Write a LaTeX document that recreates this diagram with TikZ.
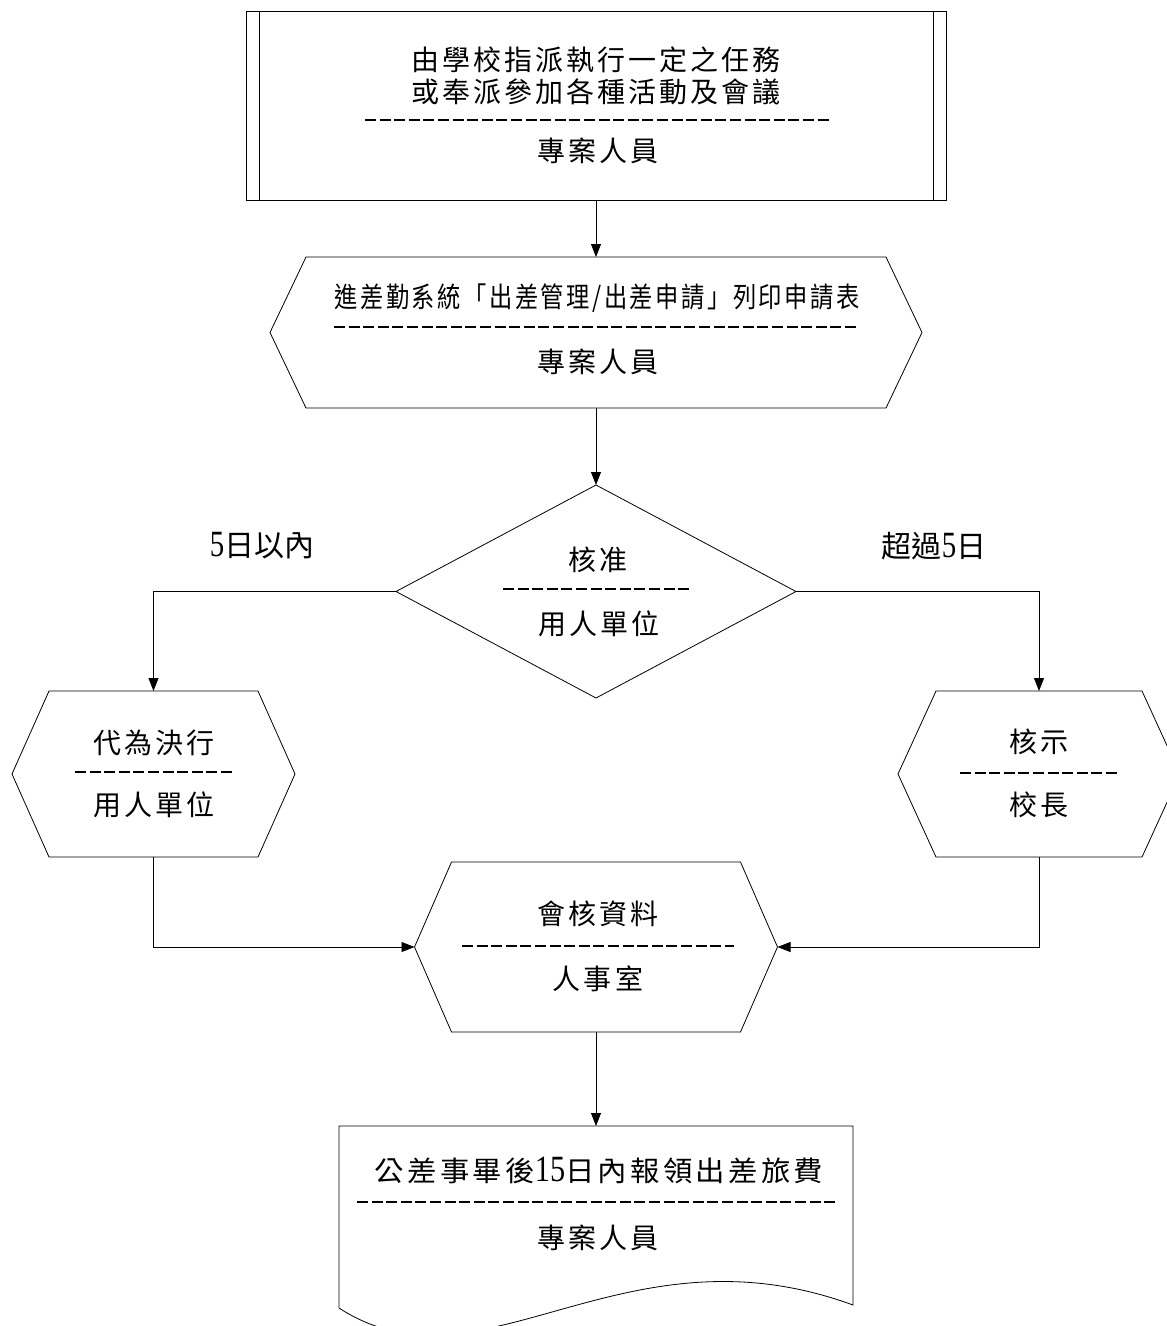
\documentclass[tikz,border=0pt]{standalone}
\usepackage{fontspec}
\usepackage{graphicx}
\setmainfont{Liberation Serif}
\newfontfamily\cjk[LetterSpace=11]{Noto Sans CJK TC}
\newfontfamily\cjkplain{Noto Sans CJK TC}
\newcommand\tallnum[1]{{\rmfamily\fontsize{37}{30}\selectfont\scalebox{0.78}[1]{#1}}}
\usetikzlibrary{arrows.meta,calc}
\newcommand\hexdraw[2]{\draw ($(#1.north west)+(#2,0)$) -- ($(#1.north east)+(-#2,0)$) -- (#1.east) -- ($(#1.south east)+(-#2,0)$) -- ($(#1.south west)+(#2,0)$) -- (#1.west) -- cycle;}
\begin{document}
\begin{tikzpicture}[x=1pt,y=-1pt,line width=0.8pt,
  shp/.style={shape=rectangle,inner sep=0pt,outer sep=0pt},
  txt/.style={inner sep=0pt,font=\fontsize{28}{30}\cjk},
  lbl/.style={inner sep=0pt,font=\fontsize{30}{30}\cjkplain},
  dashline/.style={dash pattern=on 11pt off 3.6pt,line width=1.4pt},
  arr/.style={-{Triangle[length=13pt,width=10pt]}}]
\useasboundingbox (0,0) rectangle (1167,1326);
\clip (0,0) rectangle (1167,1326);

% box 1 (predefined process)
\node[shp,draw,minimum width=700pt,minimum height=189pt] (b1) at (596,105.5) {};
\draw ($(b1.north west)+(13,0)$) -- ($(b1.south west)+(13,0)$);
\draw ($(b1.north east)+(-13,0)$) -- ($(b1.south east)+(-13,0)$);
\node[txt] (b1a) at (596,60) {由學校指派執行一定之任務};
\node[txt] (b1b) at (596,92) {或奉派參加各種活動及會議};
\draw[dashline] (365,120) -- (830,120);
\node[txt] (b1c) at (598,151) {專案人員};

% box 2 (hexagon)
\node[shp,minimum width=652pt,minimum height=151pt] (h2) at (596,332.5) {};
\hexdraw{h2}{36}
\node[txt] (h2a) at (597,298) {\scalebox{0.83}[1]{進差勤系統「出差管理/出差申請」列印申請表}};
\draw[dashline] (334,327) -- (856,327);
\node[txt] (h2b) at (598,362) {專案人員};

% decision
\node[shp,minimum width=400pt,minimum height=213pt] (dia) at (596,591.5) {};
\draw (dia.north) -- (dia.east) -- (dia.south) -- (dia.west) -- cycle;
\node[txt] (diaa) at (598,560) {核准};
\draw[dashline] (503,589) -- (690,589);
\node[txt] (diab) at (599,624) {用人單位};

\node[lbl] (l1) at (262,546) {\tallnum{5}日以內};
\node[lbl] (l2) at (934,546) {超過\tallnum{5}日};

% left hexagon
\node[shp,minimum width=283pt,minimum height=166pt] (hl) at (153.5,774) {};
\hexdraw{hl}{37}
\node[txt] (hla) at (154,743) {代為決行};
\draw[dashline] (75,772) -- (232,772);
\node[txt] (hlb) at (154,805) {用人單位};

% right hexagon
\node[shp,minimum width=282pt,minimum height=166pt] (hr) at (1039,774) {};
\hexdraw{hr}{38}
\node[txt] (hra) at (1039,742) {核示};
\draw[dashline] (960,773) -- (1117,773);
\node[txt] (hrb) at (1039,805) {校長};

% middle hexagon
\node[shp,minimum width=363pt,minimum height=170pt] (hm) at (596,947) {};
\hexdraw{hm}{37}
\node[txt] (hma) at (598,914) {會核資料};
\draw[dashline] (462,946) -- (734,946);
\node[txt] (hmb) at (598,979) {人事室};

% document
\node[shp,minimum width=514pt,minimum height=182pt] (doc) at (596,1217) {};
\draw (doc.south west) -- (doc.north west) -- (doc.north east) -- ($(doc.north east)+(0,179)$)
  .. controls ($(doc.south west)+(282,-88)$) and ($(doc.south west)+(142,92)$) .. (doc.south west);
\node[txt] (doca) at (599,1170) {\scalebox{1.05}[1]{公差事畢後\tallnum{15}日內報領出差旅費}};
\draw[dashline] (357,1202) -- (837,1202);
\node[txt] (docb) at (598,1238) {專案人員};

% connectors
\draw[arr] (b1.south) -- (h2.north);
\draw[arr] (h2.south) -- (dia.north);
\draw[arr] (dia.west) -| (hl.north);
\draw[arr] (dia.east) -| (hr.north);
\draw[arr] (hl.south) |- (hm.west);
\draw[arr] (hr.south) |- (hm.east);
\draw[arr] (hm.south) -- (doc.north);
\end{tikzpicture}
\end{document}
